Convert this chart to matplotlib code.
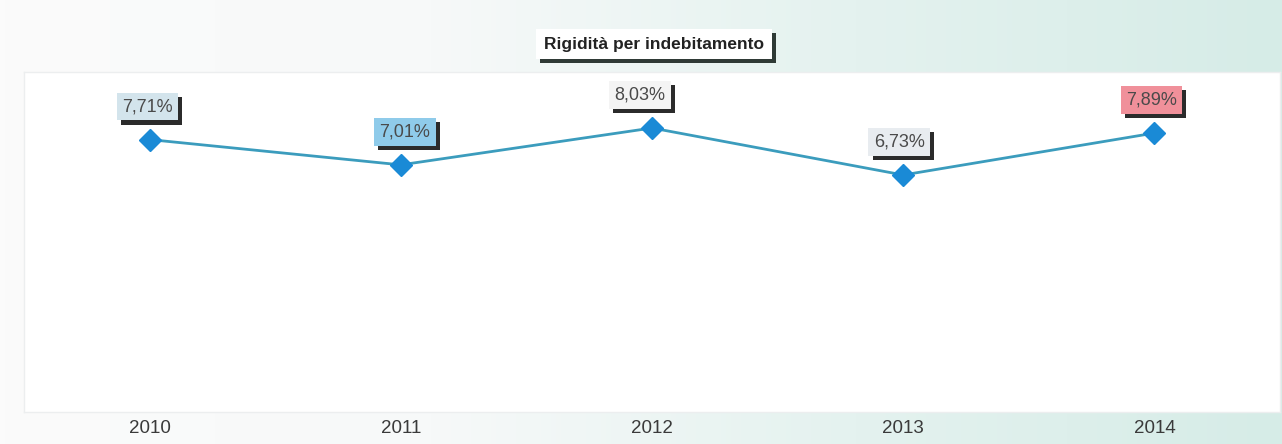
import matplotlib
matplotlib.use("Agg")
import matplotlib.pyplot as plt
import matplotlib.patheffects as pe
import numpy as np
from matplotlib.colors import LinearSegmentedColormap

years = ["2010", "2011", "2012", "2013", "2014"]
values = [7.71, 7.01, 8.03, 6.73, 7.89]
labels = ["7,71%", "7,01%", "8,03%", "6,73%", "7,89%"]
label_colors = ["#d3e4ec", "#8fcbea", "#f4f4f4", "#e8ecf0", "#f0909a"]
label_dx = [-2, 4, -12, -4, -3]
title = "Rigidità per indebitamento"

W, H = 1282, 444
fig = plt.figure(figsize=(W / 100, H / 100), dpi=100)

# background gradient
bg = fig.add_axes([0, 0, 1, 1])
cmap = LinearSegmentedColormap.from_list("bg", ["#fbfbfb", "#f7f9f9", "#e4f2ef", "#d6ece7"])
grad = np.linspace(0, 1, 256)[None, :]
bg.imshow(grad, aspect="auto", cmap=cmap, extent=[0, 1, 0, 1])
bg.set_axis_off()

ax = fig.add_axes([24 / W, (H - 412) / H, (1280 - 24) / W, (412 - 72) / H])
ax.set_facecolor("white")
x = np.arange(len(years))
ax.plot(x, values, color="#3b9cbd", lw=2, zorder=2)
ax.plot(x, values, ls="none", marker="D", ms=11, color="#1a8ad6",
        markeredgecolor="#1a8ad6", zorder=3)
ax.set_xlim(-0.5, 4.5)
ax.set_ylim(0.17, 9.58)
ax.set_xticks(x)
ax.set_xticklabels(years, fontsize=13.5, color="#3a3a3a", family="Liberation Sans")
ax.tick_params(axis="x", length=0, pad=6)
ax.set_yticks([])
for s in ax.spines.values():
    s.set_color("#eceeef")
    s.set_linewidth(1)

for xi, v, lab, c, dx in zip(x, values, labels, label_colors, label_dx):
    t = ax.annotate(lab, (xi, v), xytext=(dx, 33), textcoords="offset pixels",
                    ha="center", va="center", fontsize=13, color="#4a4a4a",
                    family="Liberation Sans",
                    bbox=dict(boxstyle="square,pad=0.3", fc=c, ec="none"), zorder=5)
    t.get_bbox_patch().set_path_effects([
        pe.withSimplePatchShadow(offset=(3, -3), shadow_rgbFace="#2b2b2b", alpha=1.0),
        pe.Normal()])

tt = fig.text(654 / W, 1 - 44 / H, title, ha="center", va="center", fontsize=12.5,
              fontweight="bold", color="#222222", family="Liberation Sans",
              bbox=dict(boxstyle="square,pad=0.45", fc="white", ec="none"))
tt.get_bbox_patch().set_path_effects([
    pe.withSimplePatchShadow(offset=(3, -3), shadow_rgbFace="#2f3a36", alpha=1.0),
    pe.Normal()])

fig.savefig("out.png", dpi=100)
